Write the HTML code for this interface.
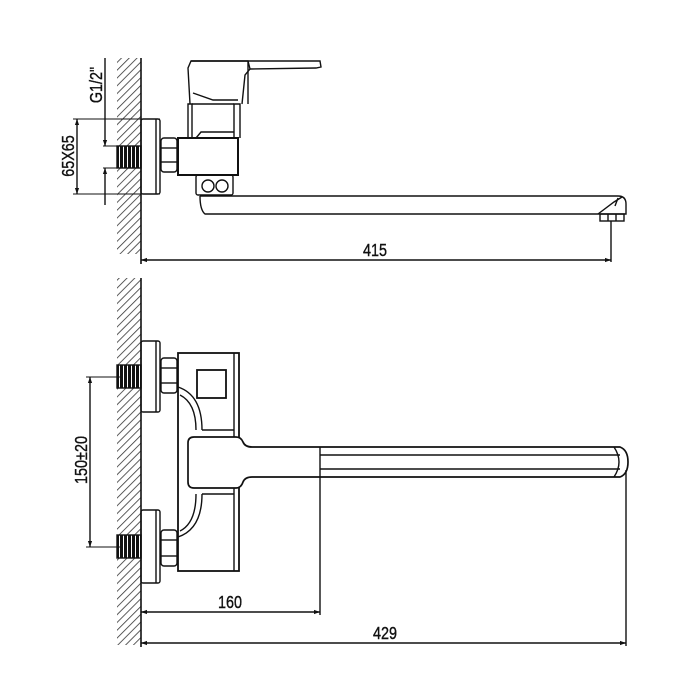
<!DOCTYPE html>
<html><head><meta charset="utf-8"><style>
html,body{margin:0;padding:0;background:#fff;}
svg{display:block;}
text{font-family:"Liberation Sans",sans-serif;font-size:18px;fill:#111;}
</style></head><body>
<svg width="700" height="700" viewBox="0 0 700 700" xmlns="http://www.w3.org/2000/svg">
<defs>
<pattern id="h" patternUnits="userSpaceOnUse" width="5.5" height="5.5" patternTransform="rotate(45)">
<line x1="0" y1="0" x2="0" y2="5.5" stroke="#333" stroke-width="1.6"/>
</pattern>
<pattern id="th" patternUnits="userSpaceOnUse" width="4" height="4">
<rect width="4" height="4" fill="#fff"/><rect width="3" height="4" fill="#111"/>
</pattern>
<marker id="a" viewBox="0 0 10 10" refX="10" refY="5" markerWidth="12" markerHeight="6" orient="auto-start-reverse" markerUnits="userSpaceOnUse"><path d="M0,1.5 L10,5 L0,8.5z" fill="#111"/></marker>
</defs>
<g fill="none" stroke="#111" stroke-width="1.4">
<rect x="117" y="58" width="24" height="196" fill="url(#h)" stroke="none"/>
<rect x="117" y="278" width="24" height="367" fill="url(#h)" stroke="none"/>
<line x1="141" y1="58" x2="141" y2="264" stroke-width="1.6"/>
<line x1="141" y1="278" x2="141" y2="647" stroke-width="1.6"/>

<rect x="117" y="146" width="24" height="22" fill="url(#th)" stroke="#111"/>
<rect x="141" y="119" width="19" height="75" rx="2"/>
<line x1="156" y1="119" x2="156" y2="194"/>
<rect x="161" y="138" width="16" height="34" rx="3"/>
<line x1="161" y1="148" x2="177" y2="148"/><line x1="161" y1="162" x2="177" y2="162"/>
<rect x="178" y="138" width="60" height="37" stroke-width="2"/>
<path d="M188,138 L188,104 L192,104 L192,138"/>
<path d="M234,138 L234,104 L240,104 L240,138"/>
<line x1="192" y1="104" x2="234" y2="104"/>
<path d="M190,104 L188,68 L191,61 L248,61 L250,69 L245,75 L242,104"/>
<path d="M193,93 L213,100 L238,100"/>
<path d="M191,61 L320,61 L321,67 L316,68 L250,69"/>
<line x1="248" y1="61" x2="248" y2="104"/>
<path d="M196,138 L201,132 L234,132"/>
<rect x="196" y="175" width="37" height="20" rx="2"/>
<circle cx="208" cy="186" r="6"/><circle cx="222" cy="186" r="6"/>
<path d="M200,196 L618,196 Q626,196 626,204 L626,214 L598,214 L205,214 Q200,210 200,196"/>
<path d="M598,214 L614,202 L622,197"/>
<path d="M615,206 L618,198"/>
<rect x="600" y="214" width="24" height="7"/>
<line x1="608" y1="214" x2="608" y2="221"/><line x1="616" y1="214" x2="616" y2="221"/>
<line x1="611" y1="221" x2="611" y2="262"/>
<line x1="141" y1="260" x2="611" y2="260" marker-start="url(#a)" marker-end="url(#a)"/>
<line x1="73" y1="119" x2="160" y2="119" stroke-width="1"/>
<line x1="73" y1="194" x2="160" y2="194" stroke-width="1"/>
<line x1="77" y1="119" x2="77" y2="194" marker-start="url(#a)" marker-end="url(#a)"/>
<line x1="103" y1="146" x2="120" y2="146" stroke-width="1"/>
<line x1="103" y1="168" x2="120" y2="168" stroke-width="1"/>
<line x1="105" y1="58" x2="105" y2="146" marker-end="url(#a)"/>
<line x1="105" y1="205" x2="105" y2="168" marker-end="url(#a)"/>

<rect x="117" y="365" width="24" height="23" fill="url(#th)" stroke="#111"/>
<rect x="117" y="535" width="24" height="23" fill="url(#th)" stroke="#111"/>
<rect x="141" y="341" width="19" height="71" rx="2"/><line x1="156" y1="341" x2="156" y2="412"/>
<rect x="141" y="510" width="19" height="73" rx="2"/><line x1="156" y1="510" x2="156" y2="583"/>
<rect x="161" y="358" width="16" height="35" rx="3"/>
<line x1="161" y1="368" x2="177" y2="368"/><line x1="161" y1="383" x2="177" y2="383"/>
<rect x="161" y="530" width="16" height="36" rx="3"/>
<line x1="161" y1="540" x2="177" y2="540"/><line x1="161" y1="556" x2="177" y2="556"/>
<rect x="178" y="353" width="61" height="218" stroke-width="1.8"/>
<line x1="234" y1="353" x2="234" y2="571"/>
<rect x="197" y="370" width="29" height="28" stroke-width="1.8"/>
<line x1="202" y1="430" x2="234" y2="430"/><line x1="202" y1="494" x2="234" y2="494"/>
<path d="M178,387 Q202,395 202,430 M180,395 Q196,403 196,430"/>
<path d="M178,537 Q202,529 202,494 M180,531 Q196,523 196,494"/>
<path d="M194,437 L236,437 Q241,437 243,442 Q245,447 252,447 L620,447 Q628,450 628,462 Q628,474 620,477 L252,477 Q245,477 243,482 Q241,488 236,488 L194,488 Q188,488 188,482 L188,443 Q188,437 194,437" fill="#fff" stroke-width="1.7"/>
<line x1="320" y1="447" x2="320" y2="477"/>
<line x1="320" y1="455" x2="620" y2="455"/>
<line x1="320" y1="469" x2="620" y2="469"/>
<path d="M614,447 Q624,462 614,477"/>
<line x1="626" y1="470" x2="626" y2="646"/>
<line x1="320" y1="477" x2="320" y2="615"/>
<line x1="141" y1="612" x2="320" y2="612" marker-start="url(#a)" marker-end="url(#a)"/>
<line x1="141" y1="643" x2="626" y2="643" marker-start="url(#a)" marker-end="url(#a)"/>
<line x1="86" y1="377" x2="120" y2="377" stroke-width="1"/>
<line x1="86" y1="547" x2="120" y2="547" stroke-width="1"/>
<line x1="90" y1="377" x2="90" y2="547" marker-start="url(#a)" marker-end="url(#a)"/>
</g>
<g stroke="#111" stroke-width="0.4">
<text x="375" y="256" text-anchor="middle" transform="translate(375 0) scale(0.8 1) translate(-375 0)">415</text>
<text x="230" y="608" text-anchor="middle" transform="translate(230 0) scale(0.8 1) translate(-230 0)">160</text>
<text x="385" y="639" text-anchor="middle" transform="translate(385 0) scale(0.8 1) translate(-385 0)">429</text>
<text transform="translate(74 156) rotate(-90) scale(0.8 1)" text-anchor="middle">65X65</text>
<text transform="translate(102 85) rotate(-90) scale(0.8 1)" text-anchor="middle">G1/2"</text>
<text transform="translate(87 460) rotate(-90) scale(0.8 1)" text-anchor="middle">150±20</text>
</g>
</svg>
</body></html>
